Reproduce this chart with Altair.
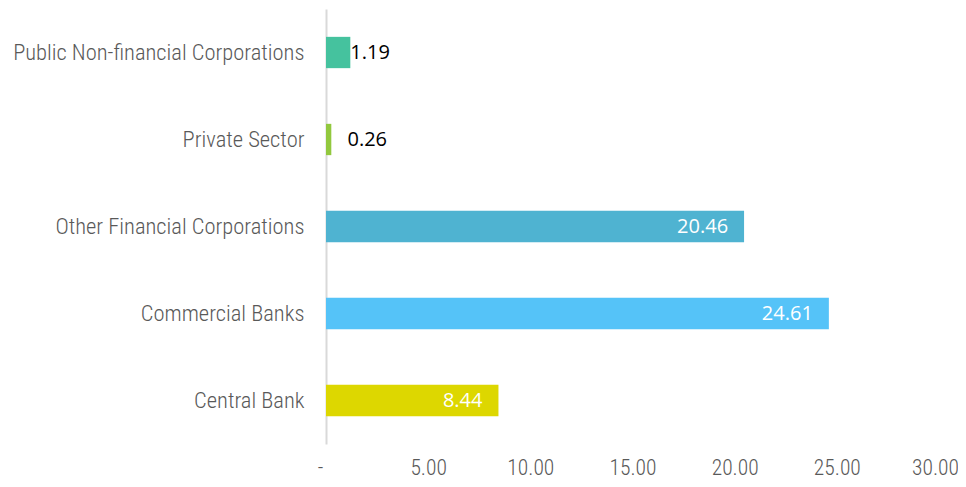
import altair as alt
import pandas as pd

categories = ["Public Non-financial Corporations", "Private Sector",
              "Other Financial Corporations", "Commercial Banks", "Central Bank"]
values = [1.19, 0.26, 20.46, 24.61, 8.44]
colors = ["#45C29E", "#92C83E", "#4FB3D1", "#55C3F8", "#DDD700"]
x_ticks = [0, 5, 10, 15, 20, 25, 30]

df = pd.DataFrame({"cat": categories, "value": values, "color": colors})

AXIS_FONT = "Roboto Condensed, Liberation Sans Narrow, Arial Narrow, sans-serif"
LABEL_FONT = "Open Sans, Lato, sans-serif"

y = alt.Y("cat:N", sort=categories, title=None,
          scale=alt.Scale(paddingInner=0.64, paddingOuter=0.32),
          axis=alt.Axis(ticks=False, labelFont=AXIS_FONT, labelFontSize=22.5,
                        labelFontWeight=300,
                        labelColor="#595959", labelPadding=22,
                        domainColor="#D9D9D9", domainWidth=2, labelLimit=400))
x = alt.X("value:Q", title=None, scale=alt.Scale(domain=[0, 30], nice=False),
          axis=alt.Axis(values=x_ticks, grid=False, domain=False, ticks=False,
                        labelFont=AXIS_FONT, labelFontSize=21.5, labelFontWeight=300,
                        labelColor="#595959", labelFlush=False, labelOverlap=False,
                        labelBound=False, labelPadding=13,
                        labelOffset={"condition": [
                            {"test": "datum.value == 0", "value": -6},
                            {"test": "datum.value == 30", "value": -4}],
                            "value": 0},
                        labelExpr="datum.value == 0 ? '-' : format(datum.value, '.2f')"))

bars = alt.Chart(df).mark_bar().encode(
    x=x, y=y, color=alt.Color("color:N", scale=None))

inside = alt.Chart(df).transform_filter("datum.value >= 5").mark_text(
    align="right", dx=-16, font=LABEL_FONT, fontSize=20, color="white", baseline="middle"
).encode(x="value:Q", y=alt.Y("cat:N", sort=categories),
         text=alt.Text("value:Q", format=".2f"))

outside = alt.Chart(df).transform_filter("datum.value < 5").transform_calculate(
    lx="max(datum.value, 1.05)").mark_text(
    align="left", dx=0, font=LABEL_FONT, fontSize=20, color="black", baseline="middle"
).encode(x="lx:Q", y=alt.Y("cat:N", sort=categories),
         text=alt.Text("value:Q", format=".2f"))

chart = alt.layer(bars, inside, outside).properties(
    width=613, height=435,
    background="white",
    autosize=alt.AutoSizeParams(type="none"),
    padding={"left": 318, "top": 1, "right": 19, "bottom": 35},
).configure_view(strokeWidth=0, stroke=None)

chart.save("out.html", embed_options={"renderer": "svg", "actions": False})
